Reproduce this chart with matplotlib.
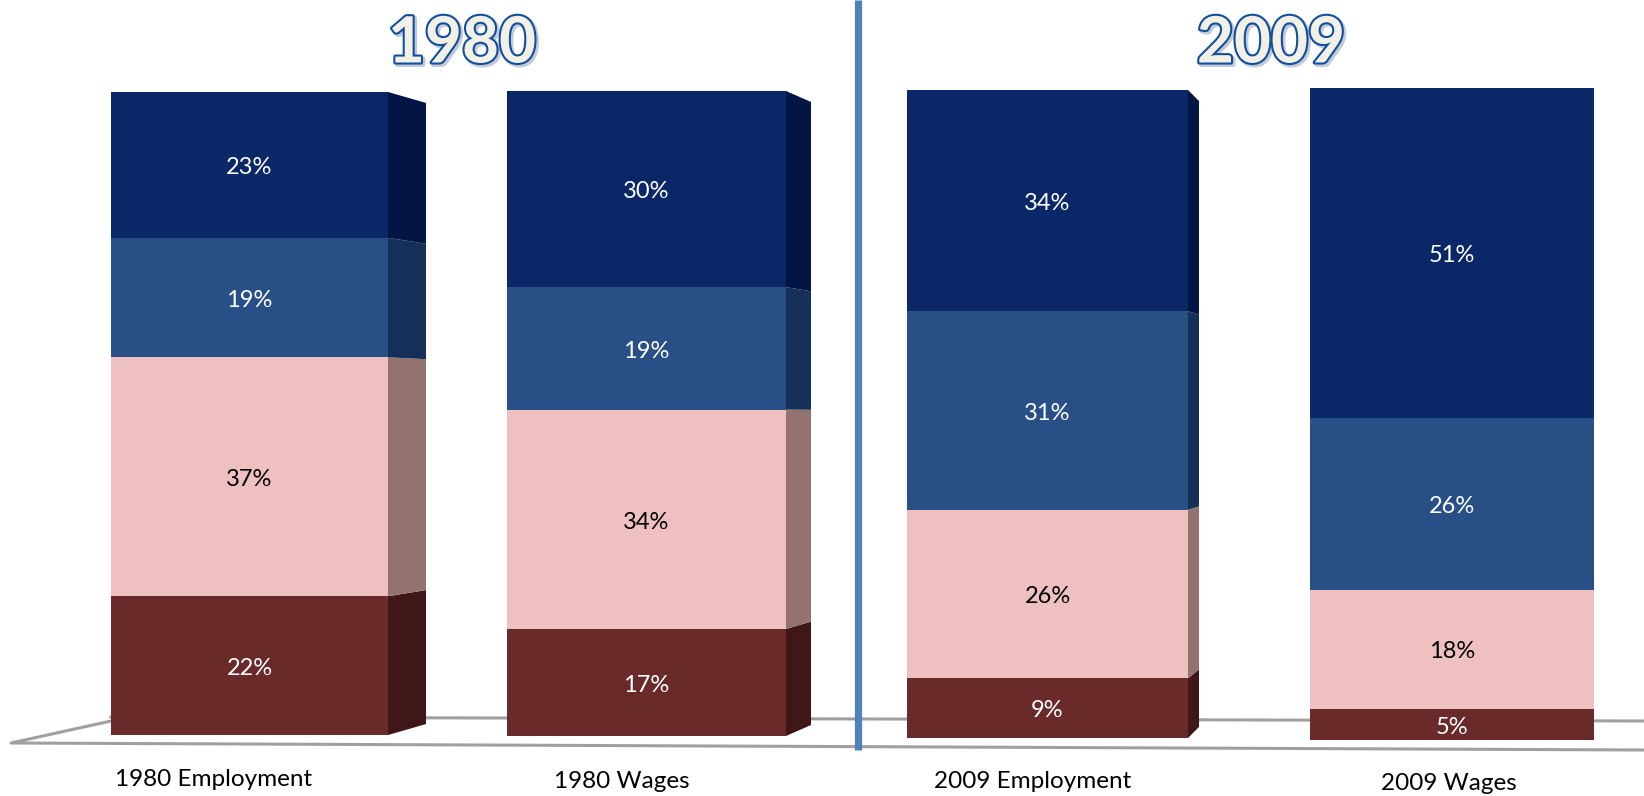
import matplotlib
matplotlib.use("Agg")
import matplotlib.pyplot as plt
import matplotlib.patheffects as pe
from matplotlib.patches import Polygon

plt.rcParams['font.family'] = ['Lato', 'DejaVu Sans']

categories = ['1980 Employment', '1980 Wages', '2009 Employment', '2009 Wages']
maroon_vals = [21.6, 16.6, 9.2, 4.8]
pink_vals = [37.2, 34.0, 26.0, 18.3]
blue_vals = [18.6, 19.0, 30.6, 26.4]
navy_vals = [22.7, 30.4, 34.1, 50.6]
titles = ['1980', '2009']

front_cols = ['#6a2a2a', '#efc0c0', '#285087', '#0a2868']
side_cols = ['#401718', '#937270', '#143058', '#021544']
text_cols = ['white', 'black', 'white', 'white']

# layout in pixels of the 1644x796 picture
W, H = 1644, 796
lefts = [111, 507, 907, 1310]
rights = [388, 786, 1188, 1594]
tops = [92, 91, 90, 88]
bottoms = [735, 736, 738, 740]
depths = [38, 25, 11, 0]
label_x = [214, 622, 1033, 1449]
label_y = [779, 781, 782, 784]
title_x = [462, 1271]
shrink = 0.966

fig = plt.figure(figsize=(W / 100, H / 100), dpi=100)

# background layer in pixel coordinates
bg = fig.add_axes([0, 0, 1, 1], zorder=1)
bg.set_xlim(0, W)
bg.set_ylim(H, 0)
bg.axis('off')

bg.plot([1644, 11, 111], [750, 743, 721], color='#a0a0a0', lw=2.2, solid_joinstyle='round')
bg.plot([111, 1644], [717, 721], color='#a0a0a0', lw=2.2)
bg.plot([857.5, 857.5], [0, 750], color='#4f81bd', lw=5.2, solid_capstyle='butt', zorder=5)

for t, x in zip(titles, title_x):
    bg.text(x, 44, t, ha='center', va='center', fontsize=46, fontweight='bold', color='#f3f0e6',
            path_effects=[pe.Stroke(linewidth=3.5, foreground='#c4cad6', offset=(1.5, -1.5)),
                          pe.Stroke(linewidth=3, foreground='#0f4fa0'),
                          pe.Normal()])

for x, y, c in zip(label_x, label_y, categories):
    bg.text(x, y, c, ha='center', va='center', fontsize=17.5, color='black')

# one axes per column, 0-100 over the height of the column
for i in range(len(categories)):
    ax = fig.add_axes([lefts[i] / W, 1 - bottoms[i] / H,
                       (rights[i] - lefts[i]) / W, (bottoms[i] - tops[i]) / H], zorder=2)
    ax.set_xlim(0, 1)
    ax.set_ylim(0, 100)
    ax.axis('off')

    vals = [maroon_vals[i], pink_vals[i], blue_vals[i], navy_vals[i]]
    total = sum(vals)
    d = depths[i] / (rights[i] - lefts[i])
    b = 0
    for v, fc, sc, tc in zip(vals, front_cols, side_cols, text_cols):
        h = 100 * v / total
        ax.bar(0.5, h, width=1, bottom=b, color=fc, edgecolor='none')
        if d > 0:
            y0 = 50 + (b - 50) * shrink
            y1 = 50 + (b + h - 50) * shrink
            ax.add_patch(Polygon([(1, b), (1 + d, y0), (1 + d, y1), (1, b + h)],
                                 closed=True, fc=sc, ec='none', clip_on=False))
        ax.annotate(f'{v:.0f}%', (0.5, b + h / 2), xytext=(0, -2), textcoords='offset points',
                    ha='center', va='center', fontsize=17, color=tc)
        b += h

fig.savefig('out.png', dpi=100)
